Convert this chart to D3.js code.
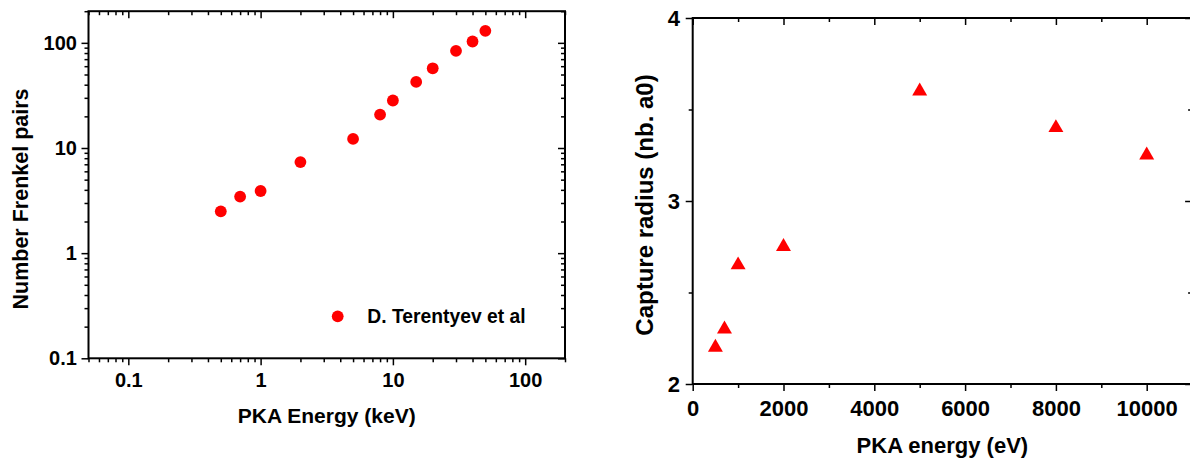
<!DOCTYPE html>
<html><head><meta charset="utf-8">
<script src="https://cdn.jsdelivr.net/npm/d3@7"></script>
<style>
body{margin:0;background:#fff}
svg{display:block;background:#fff}
text{font-family:"Liberation Sans",Arial,sans-serif;font-weight:bold;fill:#000}
</style>
</head><body><svg id="c" width="1190" height="459"></svg>
<script>
// ---- Left chart data ----
const energyKeV = [0.5, 0.7, 1, 2, 5, 8, 10, 15, 20, 30, 40, 50];
const frenkelPairs = [2.5, 3.45, 3.9, 7.35, 12.2, 20.8, 28.3, 42.5, 57.3, 84, 103, 130];
const legendLabel = "D. Terentyev et al";
const logXTicks = [0.1, 1, 10, 100];
const logYTicks = [0.1, 1, 10, 100];
const leftXTitle = "PKA Energy (keV)";
const leftYTitle = "Number Frenkel pairs";

// ---- Right chart data ----
const captureEnergyEV = [500, 700, 1000, 2000, 5000, 8000, 10000];
const captureRadius = [2.2, 2.3, 2.65, 2.75, 3.6, 3.4, 3.25];
const linXTicks = [0, 2000, 4000, 6000, 8000, 10000];
const linXMinor = [1000, 3000, 5000, 7000, 9000];
const linYTicks = [2, 3, 4];
const linYMinor = [2.5, 3.5];
const rightXTitle = "PKA energy (eV)";
const rightYTitle = "Capture radius (nb. a0)";

const svg = d3.select("#c");
const RED = "#ff0000";

function logMinors(a, b) {
  const out = [];
  for (let e = Math.floor(Math.log10(a)); e <= Math.ceil(Math.log10(b)); e++) {
    for (let m = 2; m <= 9; m++) {
      const v = +(m * Math.pow(10, e)).toPrecision(6);
      if (v >= a * 0.999 && v <= b * 1.001) out.push(v);
    }
  }
  return out;
}

function drawAxis(axis, tx, ty, fs) {
  const g = svg.append("g").attr("transform", `translate(${tx},${ty})`).call(axis);
  g.select(".domain").remove();
  g.attr("font-family", '"Liberation Sans",Arial,sans-serif').attr("font-weight", "bold").attr("font-size", fs || 20);
  g.selectAll(".tick line").attr("stroke", "#000").attr("stroke-width", 1.5);
  g.selectAll(".tick text").attr("fill", "#000");
  return g;
}

// ================= Left chart =================
const xL = d3.scaleLog().domain([0.05, 200]).range([88.5, 565]);
const yL = d3.scaleLog().domain([0.1, 200]).range([358.3, 11.2]);
const xLMinor = logMinors(0.05, 200).filter(v => !logXTicks.includes(v));
const yLMinor = logMinors(0.1, 200).filter(v => !logYTicks.includes(v));
const fmt = d => d3.format("~g")(d);

const [lx0, lx1] = xL.range(), [ly0, ly1] = yL.range();

drawAxis(d3.axisBottom(xL).tickValues(logXTicks).tickSize(7).tickPadding(8).tickFormat(fmt).tickSizeOuter(0), 0, ly0, 20);
drawAxis(d3.axisBottom(xL).tickValues(xLMinor).tickSize(4).tickFormat("").tickSizeOuter(0), 0, ly0);
drawAxis(d3.axisTop(xL).tickValues(logXTicks).tickSize(-7).tickFormat("").tickSizeOuter(0), 0, ly1);
drawAxis(d3.axisTop(xL).tickValues(xLMinor).tickSize(-4).tickFormat("").tickSizeOuter(0), 0, ly1);
drawAxis(d3.axisLeft(yL).tickValues(logYTicks).tickSize(7).tickPadding(4.6).tickFormat(fmt).tickSizeOuter(0), lx0, 0, 20);
drawAxis(d3.axisLeft(yL).tickValues(yLMinor).tickSize(4).tickFormat("").tickSizeOuter(0), lx0, 0);
drawAxis(d3.axisRight(yL).tickValues(logYTicks).tickSize(-7).tickFormat("").tickSizeOuter(0), lx1, 0);
drawAxis(d3.axisRight(yL).tickValues(yLMinor).tickSize(-4).tickFormat("").tickSizeOuter(0), lx1, 0);

svg.append("rect").attr("x", lx0).attr("y", ly1).attr("width", lx1 - lx0).attr("height", ly0 - ly1)
  .attr("fill", "none").attr("stroke", "#000").attr("stroke-width", 2);

svg.append("g").selectAll("circle").data(energyKeV).join("circle")
  .attr("cx", d => xL(d)).attr("cy", (d, i) => yL(frenkelPairs[i])).attr("r", 5.9).attr("fill", RED);

// legend
svg.append("circle").attr("cx", 337.7).attr("cy", 316.3).attr("r", 5.9).attr("fill", RED);
svg.append("text").attr("x", 367.3).attr("y", 322.8).attr("font-size", 19.3).text(legendLabel);

svg.append("text").attr("x", (lx0 + lx1) / 2).attr("y", 423).attr("text-anchor", "middle")
  .attr("font-size", 21).text(leftXTitle);
svg.append("text").attr("transform", "translate(28,199) rotate(-90)").attr("text-anchor", "middle")
  .attr("font-size", 21.5).text(leftYTitle);

// ================= Right chart =================
const xR = d3.scaleLinear().domain([0, 11000]).range([692.7, 1192.1]);
const yR = d3.scaleLinear().domain([2, 4]).range([384, 18]);
const [rx0, rx1] = xR.range(), [ry0, ry1] = yR.range();

drawAxis(d3.axisBottom(xR).tickValues(linXTicks).tickSize(7).tickPadding(9.7).tickFormat(d => String(d)).tickSizeOuter(0), 0, ry0, 22);
drawAxis(d3.axisBottom(xR).tickValues(linXMinor).tickSize(4).tickFormat("").tickSizeOuter(0), 0, ry0);
drawAxis(d3.axisTop(xR).tickValues(linXTicks).tickSize(-7).tickFormat("").tickSizeOuter(0), 0, ry1);
drawAxis(d3.axisTop(xR).tickValues(linXMinor).tickSize(-4).tickFormat("").tickSizeOuter(0), 0, ry1);
drawAxis(d3.axisLeft(yR).tickValues(linYTicks).tickSize(7).tickPadding(5.7).tickFormat(d => String(d)).tickSizeOuter(0), rx0, 0, 22);
drawAxis(d3.axisLeft(yR).tickValues(linYMinor).tickSize(4).tickFormat("").tickSizeOuter(0), rx0, 0);
drawAxis(d3.axisRight(yR).tickValues(linYTicks).tickSize(-7).tickFormat("").tickSizeOuter(0), rx1, 0);
drawAxis(d3.axisRight(yR).tickValues(linYMinor).tickSize(-4).tickFormat("").tickSizeOuter(0), rx1, 0);

svg.append("rect").attr("x", rx0).attr("y", ry1).attr("width", rx1 - rx0).attr("height", ry0 - ry1)
  .attr("fill", "none").attr("stroke", "#000").attr("stroke-width", 2);

const tri = d3.symbol().type(d3.symbolTriangle).size(97);
svg.append("g").selectAll("path").data(captureEnergyEV).join("path")
  .attr("transform", (d, i) => `translate(${xR(d)},${yR(captureRadius[i])})`)
  .attr("d", tri).attr("fill", RED);

svg.append("text").attr("x", (rx0 + rx1) / 2).attr("y", 452.7).attr("text-anchor", "middle")
  .attr("font-size", 22).text(rightXTitle);
svg.append("text").attr("transform", "translate(653,205) rotate(-90)").attr("text-anchor", "middle")
  .attr("font-size", 24).text(rightYTitle);
</script>
</body></html>
